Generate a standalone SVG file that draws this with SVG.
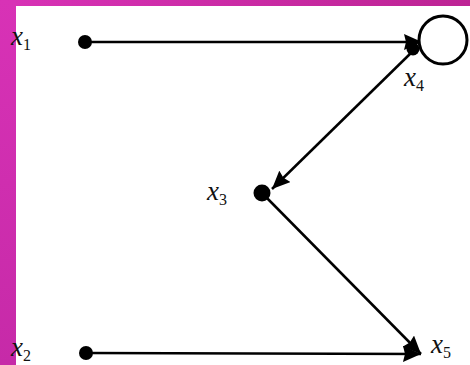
<svg xmlns="http://www.w3.org/2000/svg" width="470" height="365" viewBox="0 0 470 365">
<defs>
<linearGradient id="bg" x1="0" y1="0" x2="1" y2="0">
<stop offset="0" stop-color="#d832b6"/>
<stop offset="1" stop-color="#bd2494"/>
</linearGradient>
<linearGradient id="bgv" x1="0" y1="0" x2="0" y2="1">
<stop offset="0" stop-color="#d832b6"/>
<stop offset="1" stop-color="#c62aa8"/>
</linearGradient>
<marker id="arr" viewBox="0 0 18 16" refX="18" refY="8" markerWidth="18" markerHeight="16" markerUnits="userSpaceOnUse" orient="auto">
<path d="M0,0 L18,8 L0,16 L2,8 Z" fill="#000"/>
</marker>
<style>
.lbl{font-family:"Liberation Serif","Times New Roman",serif;font-style:italic;font-size:27px;fill:#111}
.sub{font-style:normal;font-size:16px}
.edge{stroke:#000;stroke-width:2.5;fill:none}
.dot{fill:#000}
</style>
</defs>
<rect width="470" height="365" fill="#fff"/>
<rect x="0" y="0" width="470" height="6" fill="url(#bg)"/>
<rect x="0" y="0" width="16" height="365" fill="url(#bgv)"/>
<g id="connectors">
<line class="edge" x1="85" y1="42" x2="422" y2="42" marker-end="url(#arr)"/>
<line class="edge" x1="413" y1="51" x2="272" y2="189" marker-end="url(#arr)"/>
<line class="edge" x1="262" y1="193" x2="421" y2="354" marker-end="url(#arr)"/>
<line class="edge" x1="86" y1="353" x2="421" y2="354" marker-end="url(#arr)"/>
</g>
<g id="x1">
<circle class="dot" cx="85" cy="42" r="7"/>
<text class="lbl" x="11" y="45">x<tspan class="sub" dy="5">1</tspan></text>
</g>
<g id="x2">
<circle class="dot" cx="86" cy="353" r="7"/>
<text class="lbl" x="11" y="356">x<tspan class="sub" dy="5">2</tspan></text>
</g>
<g id="x3">
<circle class="dot" cx="262" cy="193" r="8.5"/>
<text class="lbl" x="207" y="200">x<tspan class="sub" dy="5">3</tspan></text>
</g>
<g id="x4">
<circle cx="443" cy="40" r="24" fill="#fff" stroke="#000" stroke-width="3"/>
<circle class="dot" cx="413" cy="49" r="6.5"/>
<text class="lbl" x="404" y="86">x<tspan class="sub" dy="5">4</tspan></text>
</g>
<g id="x5">
<text class="lbl" x="431" y="353">x<tspan class="sub" dy="5">5</tspan></text>
</g>
</svg>
